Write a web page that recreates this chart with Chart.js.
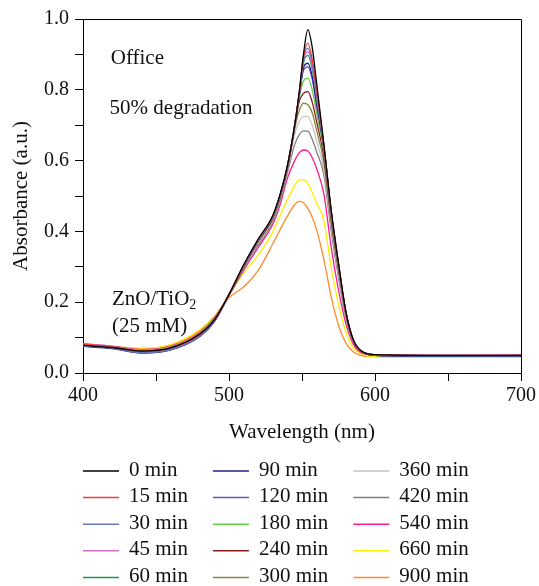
<!DOCTYPE html>
<html><head><meta charset="utf-8">
<script src="https://cdn.jsdelivr.net/npm/chart.js@4.4.1/dist/chart.umd.min.js"></script>
<style>html,body{margin:0;padding:0;background:#fff;}#wrap{width:539px;height:586px;}</style>
</head><body><div id="wrap"><canvas id="c" width="539" height="586"></canvas></div>
<script>
// Wavelength grid (nm)
const wavelengths = [400,420,440,460,480,490,500,510,520,530,535,540,545,548,551,554,557,560,565,570,575,580,585,590,600,650,700];
// Legend / series labels
const timeLabels = ['0 min','15 min','30 min','45 min','60 min','90 min','120 min','180 min','240 min','300 min','360 min','420 min','540 min','660 min','900 min'];
// Absorbance series
const a0   = [.078,.072,.062,.071,.110,.150,.222,.305,.378,.445,.505,.585,.700,.790,.900,.970,.920,.820,.645,.460,.310,.175,.095,.064,.052,.050,.050];
const a15  = [.082,.074,.062,.070,.108,.149,.222,.304,.377,.444,.503,.585,.700,.788,.892,.932,.886,.800,.643,.458,.309,.174,.095,.064,.052,.050,.050];
const a30  = [.076,.070,.057,.066,.104,.146,.221,.303,.376,.443,.502,.585,.700,.787,.887,.918,.874,.790,.641,.456,.308,.174,.095,.064,.051,.049,.049];
const a45  = [.083,.075,.062,.070,.108,.149,.221,.303,.376,.443,.502,.584,.700,.786,.882,.908,.866,.783,.640,.455,.307,.173,.094,.064,.052,.050,.050];
const a60  = [.078,.072,.060,.069,.107,.148,.221,.302,.375,.442,.501,.584,.700,.785,.875,.897,.858,.777,.638,.454,.306,.173,.094,.063,.051,.049,.049];
const a90  = [.075,.069,.056,.065,.103,.145,.220,.301,.374,.441,.500,.583,.699,.782,.862,.875,.838,.763,.635,.452,.305,.172,.094,.063,.050,.048,.048];
const a120 = [.076,.070,.057,.066,.104,.146,.220,.301,.374,.441,.500,.582,.698,.780,.855,.865,.830,.755,.632,.450,.303,.172,.094,.063,.050,.048,.048];
const a180 = [.079,.073,.062,.071,.110,.150,.221,.301,.373,.440,.498,.580,.697,.775,.825,.833,.800,.735,.625,.445,.300,.170,.093,.063,.050,.048,.048];
const a240 = [.080,.073,.062,.071,.110,.151,.221,.300,.372,.438,.496,.578,.695,.765,.790,.795,.765,.710,.610,.435,.295,.168,.092,.063,.050,.048,.048];
const a300 = [.079,.073,.063,.073,.112,.152,.221,.299,.370,.436,.494,.575,.690,.740,.762,.758,.735,.685,.595,.425,.290,.165,.091,.063,.050,.048,.048];
const a360 = [.078,.073,.064,.074,.113,.153,.221,.297,.367,.433,.490,.570,.675,.710,.725,.724,.700,.655,.575,.415,.280,.160,.090,.063,.050,.048,.048];
const a420 = [.078,.073,.064,.074,.113,.153,.220,.295,.362,.428,.485,.565,.645,.672,.684,.683,.660,.625,.560,.400,.270,.155,.088,.062,.050,.048,.048];
const a540 = [.082,.076,.066,.076,.116,.156,.220,.290,.355,.420,.475,.550,.600,.622,.630,.627,.608,.578,.505,.355,.235,.140,.082,.059,.051,.050,.051];
const a660 = [.076,.074,.070,.080,.122,.160,.219,.283,.333,.398,.445,.490,.530,.545,.546,.535,.510,.480,.430,.298,.194,.116,.072,.055,.046,.045,.045];
const a900 = [.076,.074,.069,.079,.121,.160,.213,.243,.290,.365,.405,.443,.476,.485,.481,.465,.440,.405,.320,.215,.135,.085,.060,.050,.046,.045,.045];
const seriesValues = [a0,a15,a30,a45,a60,a90,a120,a180,a240,a300,a360,a420,a540,a660,a900];
const seriesColors = ['#000000','#f03c3c','#6878c0','#d070c8','#1e9455','#20208a','#6a52b8','#66cc44','#8c1c1c','#8a8a3c','#c4c4c4','#808080','#ff1a8c','#ffee00','#ff8a2a'];
// Axis settings
const xLabeledTicks = [400,500,600,700];
const yLabeledTicks = [0,0.2,0.4,0.6,0.8,1.0];

const FONT = '"Liberation Serif", "Times New Roman", serif';
Chart.defaults.font.family = FONT;
Chart.defaults.color = '#111';

const notes = [
  {lines:[{t:'Office'}], x:419, y:0.873},
  {lines:[{t:'50% degradation'}], x:418.2, y:0.731},
  {lines:[{t:'ZnO/TiO'},{t:'2', sub:true}], x:419.8, y:0.193},
  {lines:[{t:'(25 mM)'}], x:419.8, y:0.115}
];

const frame = {
  id:'frame',
  afterDatasetsDraw(chart){
    const {ctx, chartArea:a} = chart;
    ctx.save(); ctx.strokeStyle='#000'; ctx.lineWidth=1;
    ctx.beginPath(); ctx.moveTo(a.left, a.top+0.5); ctx.lineTo(a.right+0.5, a.top+0.5); ctx.lineTo(a.right+0.5, a.bottom); ctx.stroke();
    ctx.restore();
  }
};
const annot = {
  id:'annot',
  afterDraw(chart){
    const ctx=chart.ctx, xs=chart.scales.x, ys=chart.scales.y;
    ctx.save(); ctx.fillStyle='#111'; ctx.textBaseline='alphabetic';
    for(const n of notes){
      let px=xs.getPixelForValue(n.x); const py=ys.getPixelForValue(n.y);
      for(const part of n.lines){
        ctx.font=(part.sub?'14px ':'21px ')+FONT;
        ctx.fillText(part.t, px, part.sub? py+4 : py);
        px+=ctx.measureText(part.t).width;
      }
    }
    ctx.restore();
  }
};
const gridLegend = {
  id:'gridLegend',
  afterDraw(chart){
    const ctx=chart.ctx, ds=chart.data.datasets;
    const rows=5, lineLen=36, gap=10, colGap=25, rowH=26.6;
    ctx.save(); ctx.font='21px '+FONT; ctx.textBaseline='middle';
    let x=chart.chartArea.left; const y0=chart.scales.x.bottom+26;
    for(let c=0;c*rows<ds.length;c++){
      let maxW=0;
      for(let r=0;r<rows;r++){
        const i=c*rows+r; if(i>=ds.length) break;
        const y=y0+r*rowH;
        ctx.strokeStyle=ds[i].borderColor; ctx.lineWidth=1.5;
        ctx.beginPath(); ctx.moveTo(x,y); ctx.lineTo(x+lineLen,y); ctx.stroke();
        ctx.fillStyle='#111'; ctx.fillText(ds[i].label, x+lineLen+gap, y-1);
        maxW=Math.max(maxW, ctx.measureText(ds[i].label).width);
      }
      x+=lineLen+gap+maxW+colGap;
    }
    ctx.restore();
  }
};

const datasets = seriesValues.map((vals,i)=>({
  label: timeLabels[i],
  data: wavelengths.map((w,j)=>({x:w, y:vals[j]})),
  borderColor: seriesColors[i],
  backgroundColor: seriesColors[i],
  borderWidth: 1.3,
  pointRadius: 0,
  fill: false,
  cubicInterpolationMode: 'monotone'
}));

new Chart(document.getElementById('c'), {
  type:'line',
  data:{datasets},
  options:{
    responsive:false, animation:false, devicePixelRatio:1,
    layout:{padding:{top:19,right:16,bottom:141,left:0}},
    plugins:{legend:{display:false}, tooltip:{enabled:false}},
    scales:{
      x:{type:'linear', min:400, max:700,
        ticks:{stepSize:50, autoSkip:false, maxRotation:0, padding:3, font:{size:20}, color:'#111',
          callback:(v)=> xLabeledTicks.includes(v) ? String(v) : ''},
        grid:{drawOnChartArea:false, drawTicks:true, tickLength:8, tickColor:'#000'},
        border:{display:true, color:'#000', width:1},
        title:{display:true, text:'Wavelength (nm)', font:{size:21}, color:'#111', padding:{top:0,bottom:0}},
        afterFit:(s)=>{s.height=72;}
      },
      y:{min:0, max:1,
        ticks:{stepSize:0.1, autoSkip:false, padding:6, font:{size:20}, color:'#111',
          callback:(v)=>{const r=Math.round(v*10)/10; return yLabeledTicks.some(t=>Math.abs(t-r)<1e-9) ? r.toFixed(1) : '';}},
        grid:{drawOnChartArea:false, drawTicks:true, tickLength:8, tickColor:'#000'},
        border:{display:true, color:'#000', width:1},
        title:{display:true, text:'Absorbance (a.u.)', font:{size:21}, color:'#111', padding:{top:9,bottom:0}},
        afterFit:(s)=>{s.width=83;}
      }
    }
  },
  plugins:[frame, annot, gridLegend]
});
</script></body></html>
